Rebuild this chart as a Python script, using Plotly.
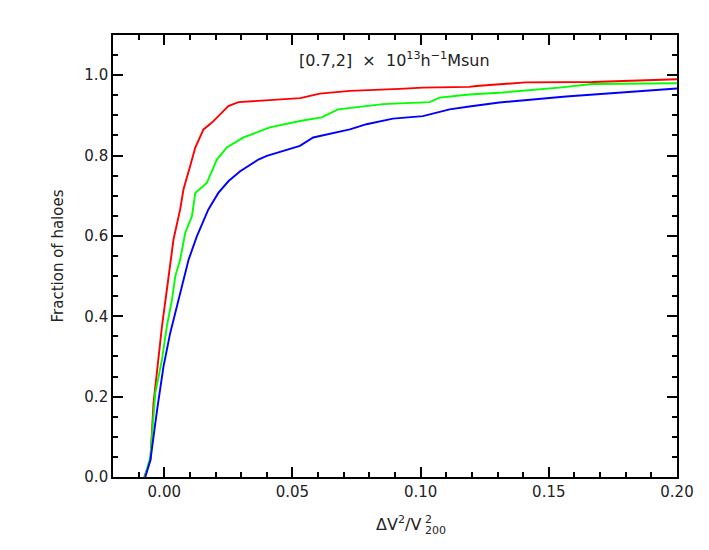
import plotly.graph_objects as go

red_x = [-0.0078, -0.0054, -0.0042, -0.0009, 0.001, 0.0026, 0.0036, 0.0062, 0.0075, 0.0101, 0.0121,
         0.0153, 0.0186, 0.0211, 0.025, 0.0289, 0.0374, 0.053, 0.0607, 0.0724, 0.0918, 0.1008, 0.119,
         0.1217, 0.141, 0.167, 0.2]
red_y = [0.0, 0.042, 0.184, 0.375, 0.466, 0.541, 0.591, 0.666, 0.716, 0.774, 0.82,
         0.865, 0.882, 0.898, 0.923, 0.933, 0.936, 0.943, 0.954, 0.961, 0.966, 0.969, 0.971,
         0.973, 0.982, 0.983, 0.99]

green_x = [-0.0076, -0.0054, -0.0035, -0.0009, 0.001, 0.003, 0.0043, 0.0062, 0.0082, 0.0108, 0.0121,
           0.0166, 0.0205, 0.0244, 0.0309, 0.0374, 0.0412, 0.0529, 0.0614, 0.0678, 0.0853, 0.1035,
           0.1074, 0.119, 0.132, 0.154, 0.167, 0.2]
green_y = [0.0, 0.051, 0.209, 0.292, 0.375, 0.441, 0.5, 0.541, 0.608, 0.649, 0.707,
           0.732, 0.79, 0.82, 0.845, 0.861, 0.87, 0.886, 0.895, 0.915, 0.928, 0.933,
           0.944, 0.952, 0.957, 0.969, 0.978, 0.98]

blue_x = [-0.0074, -0.0054, -0.0028, -0.0003, 0.0023, 0.0049, 0.0075, 0.0095, 0.0127, 0.0172, 0.0211,
          0.025, 0.0296, 0.0367, 0.04, 0.0529, 0.0581, 0.0724, 0.0789, 0.0892, 0.1009, 0.1113,
          0.119, 0.1307, 0.1567, 0.1774, 0.2]
blue_y = [0.0, 0.042, 0.167, 0.275, 0.358, 0.425, 0.491, 0.541, 0.599, 0.666, 0.707,
          0.736, 0.761, 0.79, 0.799, 0.824, 0.845, 0.865, 0.878, 0.892, 0.898, 0.915,
          0.922, 0.932, 0.947, 0.957, 0.967]

x_ticks = [0.0, 0.05, 0.10, 0.15, 0.20]
x_tick_labels = ["0.00", "0.05", "0.10", "0.15", "0.20"]
y_ticks = [0.0, 0.2, 0.4, 0.6, 0.8, 1.0]
y_tick_labels = ["0.0", "0.2", "0.4", "0.6", "0.8", "1.0"]

FONT = "DejaVu Sans"
TXT = "#222222"

fig = go.Figure()
for xs, ys, c in [(red_x, red_y, "#ff0000"), (green_x, green_y, "#00ff00"), (blue_x, blue_y, "#0000ff")]:
    fig.add_trace(go.Scatter(x=xs, y=ys, mode="lines", line=dict(color=c, width=1.9), showlegend=False))

axis_common = dict(
    showgrid=False, zeroline=False, showline=True, linecolor="black", linewidth=1.6,
    mirror="allticks", ticks="inside", ticklen=10, tickwidth=1.5, tickcolor="black",
    tickfont=dict(family=FONT, size=15, color=TXT),
)

fig.update_xaxes(range=[-0.02, 0.2], tickvals=x_ticks, ticktext=x_tick_labels,
                 minor=dict(dtick=0.01, tick0=0, ticks="inside", ticklen=5, tickwidth=1.5, tickcolor="black"),
                 **axis_common)
fig.update_yaxes(range=[0, 1.1], tickvals=y_ticks, ticktext=y_tick_labels,
                 minor=dict(dtick=0.05, tick0=0, ticks="inside", ticklen=5, tickwidth=1.5, tickcolor="black"),
                 title=dict(text="Fraction of haloes",
                            font=dict(family=FONT, size=15, color=TXT), standoff=17),
                 **axis_common)

# x-axis title with stacked super/subscript
fig.add_annotation(x=0.5496, y=-0.105, xref="paper", yref="paper", showarrow=False,
                   xanchor="right", yanchor="middle",
                   text="ΔV<sup>2</sup>/V", font=dict(family=FONT, size=16, color=TXT))
fig.add_annotation(x=0.5496, y=-0.097, xref="paper", yref="paper", showarrow=False,
                   xanchor="left", yanchor="middle",
                   text="2", font=dict(family=FONT, size=11, color=TXT))
fig.add_annotation(x=0.5496, y=-0.122, xref="paper", yref="paper", showarrow=False,
                   xanchor="left", yanchor="middle",
                   text="200", font=dict(family=FONT, size=11, color=TXT))

fig.add_annotation(x=0.0899, y=1.04, xref="x", yref="y", showarrow=False,
                   text="[0.7,2]\u00a0\u00a0×\u00a0\u00a010<sup>13</sup>h<sup>−1</sup>Msun",
                   font=dict(family=FONT, size=16, color=TXT))

fig.update_layout(width=701, height=542, plot_bgcolor="white", paper_bgcolor="white",
                  margin=dict(l=105, r=32, t=27, b=73))

fig.write_html("out.html")
